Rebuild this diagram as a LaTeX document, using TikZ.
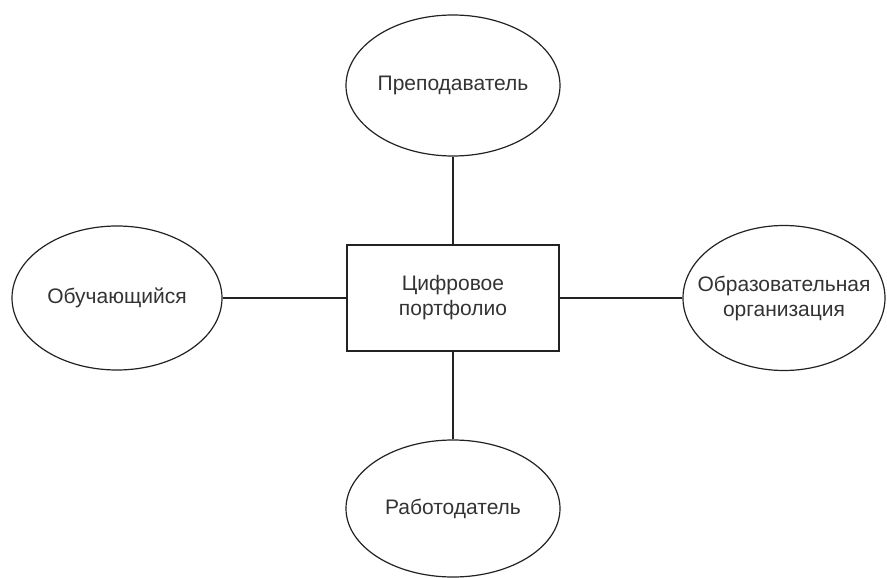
\documentclass[tikz,border=0pt]{standalone}
\usepackage{fontspec}
\setmainfont{Liberation Sans}
\usetikzlibrary{shapes.geometric}
\definecolor{ln}{HTML}{222222}
\definecolor{tx}{HTML}{333333}
\tikzset{
  oval/.style={ellipse, draw=ln, line width=1.2pt, inner xsep=-30pt, inner ysep=0pt, align=center, text=tx, font=\fontsize{21}{25}\selectfont},
  box/.style={rectangle, draw=ln, line width=1.2pt, inner sep=0pt, align=center, text=tx, font=\fontsize{21}{25}\selectfont},
  link/.style={draw=ln, line width=1.2pt}
}
\begin{document}
\begin{tikzpicture}[x=1pt,y=-1pt]
\useasboundingbox (0,0) rectangle (887,578);
\node[box, minimum width=212pt, minimum height=106pt] (c) at (453,298) {Цифровое\\портфолио};
\node[oval, minimum width=214pt, minimum height=141pt] (t) at (453,85.5) {Преподаватель};
\node[oval, minimum width=214pt, minimum height=137pt] (b) at (453,508.5) {Работодатель};
\node[oval, minimum width=210pt, minimum height=144pt] (l) at (117,298) {Обучающийся};
\node[oval, minimum width=202pt, minimum height=145pt] (r) at (784,298) {Образовательная\\организация};
\draw[link] (t.south) -- (c.north);
\draw[link] (c.south) -- (b.north);
\draw[link] (l.east) -- (c.west);
\draw[link] (c.east) -- (r.west);
\end{tikzpicture}
\end{document}
